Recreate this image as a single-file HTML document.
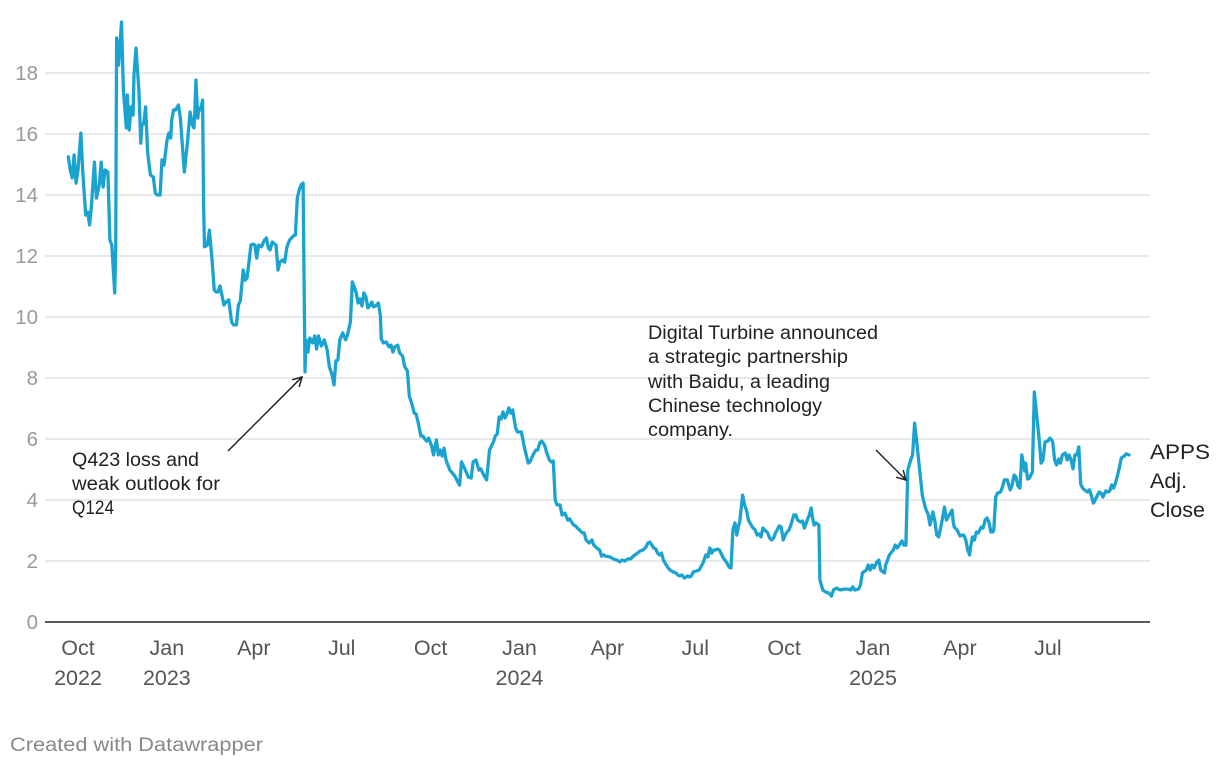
<!DOCTYPE html>
<html><head><meta charset="utf-8"><style>
body{margin:0;background:#fff;width:1220px;height:768px;overflow:hidden;font-family:"Liberation Sans",sans-serif}
svg{position:absolute;left:0;top:0}
</style></head><body>
<svg id="chart" width="1220" height="768" viewBox="0 0 1220 768"></svg>
<script>
const yTicks=[0,2,4,6,8,10,12,14,16,18];
const xTickDays=[0,92,182,273,365,457,548,639,731,823,913,1004];
const xTickMonths=["Oct","Jan","Apr","Jul","Oct","Jan","Apr","Jul","Oct","Jan","Apr","Jul"];
const xTickYears=["2022","2023","","","","2024","","","","2025","",""];
const days=[-10,-8,-6,-4,-2,0,3,5,8,10,12,14,17,19,22,24,26,28,31,33,35,38,39,40,42,45,47,50,51,53,55,57,58,60,63,65,66,68,70,72,75,78,80,82,85,87,89,92,94,96,97,99,101,104,106,110,113,116,118,120,121,122,124,125,127,129,130,131,134,136,139,141,143,145,147,149,151,153,156,159,161,164,166,168,171,173,175,177,179,181,183,185,187,190,193,195,197,199,201,205,207,209,212,214,216,217,219,223,225,227,229,231,233,235,236,238,240,243,245,247,249,252,255,258,260,263,265,267,269,271,274,277,279,282,284,286,288,290,292,294,296,298,300,302,304,306,308,311,313,314,316,319,322,324,326,328,331,333,336,338,341,343,346,348,350,352,355,357,359,361,363,366,368,371,373,375,377,379,381,385,390,392,395,397,401,404,407,409,412,415,417,420,423,426,430,432,434,436,438,440,442,444,446,448,450,453,455,459,462,464,466,468,471,474,476,478,480,483,485,488,490,492,494,496,499,501,504,507,509,511,513,515,517,519,522,524,526,529,532,534,537,540,542,544,546,551,554,558,561,563,566,569,572,575,578,582,585,588,590,592,594,596,598,600,602,604,606,609,611,613,616,619,621,623,625,628,631,633,635,637,640,643,647,650,652,654,656,658,660,662,664,668,671,674,676,678,680,682,684,685,687,688,690,692,694,698,701,703,705,707,709,711,714,716,718,720,722,726,728,730,732,734,736,738,741,743,745,748,750,752,755,757,759,760,762,764,767,768,771,774,777,780,782,785,789,793,797,800,802,804,808,810,812,816,818,820,822,824,827,829,831,835,836,838,840,844,846,848,851,853,855,857,859,862,864,866,868,870,874,876,878,880,882,885,887,889,891,894,897,899,902,905,906,907,910,913,915,917,919,921,923,924,926,928,930,932,935,937,939,941,943,945,947,948,950,952,955,957,959,962,965,967,969,971,973,975,977,979,980,981,983,985,988,990,993,995,997,999,1001,1004,1006,1008,1009,1011,1013,1015,1017,1019,1022,1024,1026,1028,1030,1032,1034,1036,1038,1040,1042,1045,1047,1049,1051,1052,1055,1057,1059,1061,1064,1066,1068,1070,1072,1074,1076,1078,1080,1083,1085,1088];
const closeValues=[15.25,14.82,14.56,15.31,14.39,14.82,16.03,14.75,13.34,13.44,13.02,13.67,15.08,13.90,14.33,15.08,14.26,14.82,14.75,12.52,12.36,10.79,12.20,19.15,18.26,19.67,17.44,16.20,17.28,16.13,16.89,16.62,17.93,18.82,17.44,15.70,16.30,16.33,16.89,15.41,14.66,14.59,14.07,14.00,14.00,15.15,14.98,15.77,16.03,15.87,16.46,16.79,16.79,16.95,16.52,14.75,15.64,16.72,16.33,16.20,16.79,17.77,16.52,16.85,16.79,17.11,13.67,12.30,12.36,12.85,11.77,10.89,10.82,10.82,11.02,10.72,10.39,10.49,10.56,9.84,9.74,9.74,10.39,10.52,11.54,11.21,11.28,11.80,12.36,12.39,12.36,11.93,12.36,12.30,12.52,12.59,12.26,12.20,12.46,12.36,11.54,11.80,11.87,11.80,12.26,12.36,12.52,12.66,12.69,13.90,14.16,14.33,14.39,8.20,9.25,8.85,9.31,9.15,9.38,8.95,9.38,9.05,9.25,8.92,8.39,8.10,7.77,8.56,8.59,9.25,9.48,9.25,9.41,9.84,11.15,10.98,10.79,10.46,10.59,10.36,10.79,10.66,10.30,10.36,10.49,10.33,10.36,10.46,10.03,9.28,9.15,9.18,9.02,9.08,8.85,9.02,9.08,8.82,8.72,8.39,8.23,7.41,7.11,6.85,6.82,6.56,6.10,6.10,6.00,5.93,6.03,5.77,5.48,5.97,5.48,5.64,5.44,5.70,5.31,4.98,4.79,4.66,4.49,5.25,4.98,4.75,4.72,5.25,5.31,4.98,5.02,4.82,4.66,5.64,5.90,6.10,6.16,6.72,6.66,6.89,6.69,6.82,7.02,6.85,6.95,6.36,6.23,6.23,5.74,5.48,5.21,5.25,5.48,5.64,5.64,5.87,5.93,5.80,5.57,5.31,5.25,5.28,4.00,3.84,3.84,3.51,3.57,3.34,3.38,3.28,3.18,3.15,3.08,3.02,2.92,2.92,2.69,2.59,2.69,2.52,2.43,2.36,2.16,2.20,2.16,2.13,2.07,2.03,1.97,2.03,2.00,2.07,2.07,2.16,2.23,2.33,2.36,2.46,2.59,2.62,2.52,2.43,2.39,2.26,2.20,2.26,2.03,1.87,1.77,1.70,1.64,1.61,1.54,1.51,1.54,1.44,1.51,1.48,1.51,1.64,1.67,1.70,1.93,2.20,2.13,2.43,2.26,2.36,2.36,2.39,2.36,2.10,1.97,1.80,1.77,3.02,3.25,2.85,3.18,3.28,3.84,4.16,3.84,3.67,3.34,3.11,3.02,2.85,2.89,2.79,3.08,3.02,2.92,2.75,2.69,2.75,2.92,3.15,3.11,2.69,2.85,2.95,3.02,3.18,3.51,3.51,3.34,3.28,3.31,3.08,3.34,3.51,3.74,3.48,3.18,3.25,3.18,1.38,1.05,0.98,0.95,0.85,1.05,1.11,1.05,1.08,1.08,1.05,1.15,1.05,1.08,1.21,1.61,1.70,1.87,1.70,1.87,1.77,1.97,2.03,1.70,1.61,1.87,2.03,2.20,2.36,2.52,2.43,2.56,2.66,2.52,2.52,4.98,5.31,5.48,6.52,5.97,5.38,4.16,3.90,3.67,3.54,3.18,3.61,3.31,2.85,2.79,3.25,3.77,3.34,3.51,3.67,3.28,3.11,3.02,2.82,2.85,2.85,2.69,2.36,2.20,2.46,2.79,2.69,2.95,2.92,3.11,3.08,3.34,3.41,3.28,2.95,2.95,3.02,4.10,4.23,4.26,4.43,4.66,4.66,4.33,4.49,4.82,4.75,4.46,4.39,5.48,5.15,4.95,5.21,4.69,4.72,4.92,7.54,6.62,5.97,5.21,5.31,5.90,5.93,6.03,5.97,5.90,5.31,5.15,5.34,5.21,5.48,5.54,5.31,5.48,5.31,5.02,5.48,5.48,5.74,4.52,4.39,4.33,4.26,4.33,4.16,3.90,3.93,4.13,4.26,4.23,4.10,4.30,4.26,4.30,4.49,4.39,4.56,4.79,5.05,5.38,5.44,5.51,5.48];

const NS="http://www.w3.org/2000/svg";
const svg=document.getElementById('chart');
const X=d=>78+d*0.966;
const Y=v=>622-v*30.5;
function mk(tag,attrs,parent){const e=document.createElementNS(NS,tag);for(const k in attrs)e.setAttribute(k,attrs[k]);(parent||svg).appendChild(e);return e;}

yTicks.forEach(t=>{
  if(t>0){const g=mk('line',{x1:45,x2:1150,y1:Y(t),y2:Y(t),stroke:'#e2e2e2','stroke-width':1.5});
  
  }
  const l=mk('text',{x:38,y:Y(t)+7,'text-anchor':'end','font-size':20.5,fill:'#999'});
  l.textContent=t;
  
  
});
const base=mk('line',{x1:45,x2:1150,y1:Y(0),y2:Y(0),stroke:'#222','stroke-width':1.5});



xTickDays.forEach((d,i)=>{
  const t=mk('text',{x:X(d),y:655,'text-anchor':'middle','font-size':21.5,fill:'#555'});
  t.textContent=xTickMonths[i];
  
  
  if(xTickYears[i]){const yv=mk('text',{x:X(d),y:685,'text-anchor':'middle','font-size':21.5,fill:'#555'});
  yv.textContent=xTickYears[i];
  
  }
});

const pts=days.map((d,i)=>X(d).toFixed(1)+','+Y(closeValues[i]).toFixed(1)).join(' ');
const line=mk('polyline',{points:pts,fill:'none',stroke:'#1ba3d0','stroke-width':3.3,'stroke-linejoin':'round','stroke-linecap':'round'});


</script>
<svg width="1220" height="768" style="pointer-events:none">
  <defs><marker id="ah" markerWidth="12" markerHeight="12" refX="10" refY="6" orient="auto" markerUnits="userSpaceOnUse"><path d="M1,1 L10,6 L1,11" fill="none" stroke="#222" stroke-width="1.5"/></marker></defs>
  <line x1="228" y1="451" x2="302" y2="377" stroke="#222" stroke-width="1.5" marker-end="url(#ah)"/>
  <line x1="876" y1="450" x2="906" y2="480" stroke="#222" stroke-width="1.5" marker-end="url(#ah)"/>
  <g font-size="19" fill="#222">
    <text x="72" y="466" textLength="127" lengthAdjust="spacingAndGlyphs">Q423 loss and</text>
    <text x="72" y="490" textLength="148" lengthAdjust="spacingAndGlyphs">weak outlook for</text>
    <text x="72" y="514" textLength="42" lengthAdjust="spacingAndGlyphs">Q124</text>
  </g>
  <g font-size="19" fill="#222">
    <text x="648" y="339" textLength="230" lengthAdjust="spacingAndGlyphs">Digital Turbine announced</text>
    <text x="648" y="363" textLength="200" lengthAdjust="spacingAndGlyphs">a strategic partnership</text>
    <text x="648" y="388" textLength="182" lengthAdjust="spacingAndGlyphs">with Baidu, a leading</text>
    <text x="648" y="412" textLength="174" lengthAdjust="spacingAndGlyphs">Chinese technology</text>
    <text x="648" y="436" textLength="85" lengthAdjust="spacingAndGlyphs">company.</text>
  </g>
  <g font-size="21.5" fill="#222">
    <text x="1150" y="459" textLength="60" lengthAdjust="spacingAndGlyphs">APPS</text>
    <text x="1150" y="488">Adj.</text>
    <text x="1150" y="517">Close</text>
  </g>
  <text x="10" y="751" font-size="19" fill="#888" textLength="253" lengthAdjust="spacingAndGlyphs">Created with Datawrapper</text>
</svg>
</body></html>
